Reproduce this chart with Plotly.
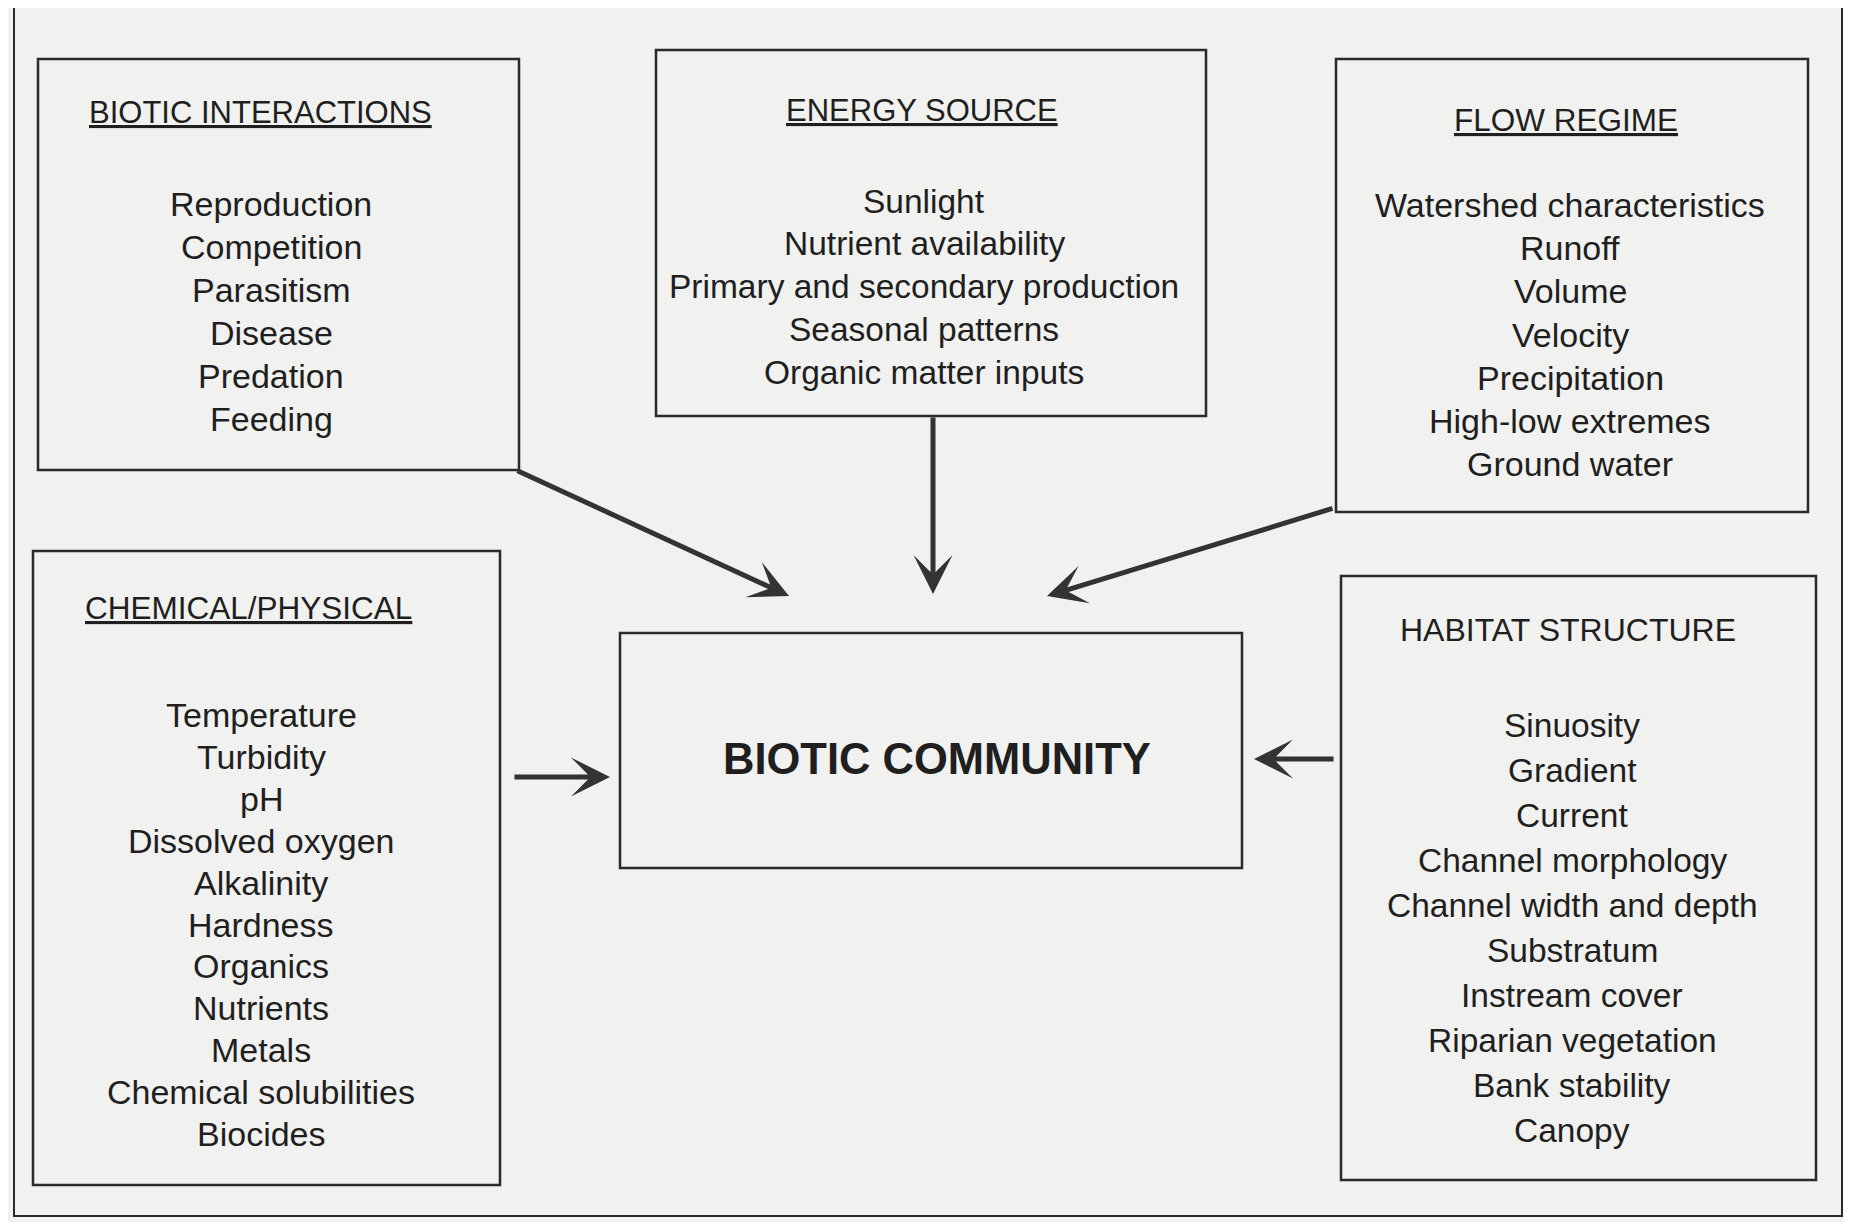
import plotly.graph_objects as go

W, H = 1851, 1222
OFF = 8  # page body margin; axis ranges are shifted so data coords = page pixels

# box contents
biotic_title = "BIOTIC INTERACTIONS"
biotic_items = ["Reproduction", "Competition", "Parasitism", "Disease", "Predation", "Feeding"]

energy_title = "ENERGY SOURCE"
energy_items = ["Sunlight", "Nutrient availability", "Primary and secondary production",
                "Seasonal patterns", "Organic matter inputs"]

flow_title = "FLOW REGIME"
flow_items = ["Watershed characteristics", "Runoff", "Volume", "Velocity", "Precipitation",
              "High-low extremes", "Ground water"]

chem_title = "CHEMICAL/PHYSICAL"
chem_items = ["Temperature", "Turbidity", "pH", "Dissolved oxygen", "Alkalinity", "Hardness",
              "Organics", "Nutrients", "Metals", "Chemical solubilities", "Biocides"]

habitat_title = "HABITAT STRUCTURE"
habitat_items = ["Sinuosity", "Gradient", "Current", "Channel morphology", "Channel width and depth",
                 "Substratum", "Instream cover", "Riparian vegetation", "Bank stability", "Canopy"]

center_title = "BIOTIC COMMUNITY"

FONT = "Liberation Sans, Arial, sans-serif"
INK = "#1f1f1f"
PAPER = "#f1f1ef"

# layout of each box: rect, title pos, first item y, line step
boxes = [
    dict(title=biotic_title, items=biotic_items, rect=(38, 59, 519, 470), tx=260, ty=112,
         ix=271, iy=204, step=43, tsize=31, isize=34, underline=True),
    dict(title=energy_title, items=energy_items, rect=(656, 50, 1206, 416), tx=922, ty=110,
         ix=924, iy=201, step=42.75, tsize=31, isize=33.5, underline=True),
    dict(title=flow_title, items=flow_items, rect=(1336, 59, 1808, 512), tx=1566, ty=120,
         ix=1570, iy=205, step=43.2, tsize=31.5, isize=34, underline=True),
    dict(title=chem_title, items=chem_items, rect=(33, 551, 500, 1185), tx=248, ty=608,
         ix=261, iy=715, step=41.9, tsize=31.5, isize=34, underline=True),
    dict(title=habitat_title, items=habitat_items, rect=(1341, 576, 1816, 1180), tx=1568, ty=630,
         ix=1572, iy=725, step=45.1, tsize=32, isize=33.5, underline=False),
]
center_rect = (620, 633, 1242, 868)

# arrows: (tail x, tail y, head x, head y)
arrows = [
    (516, 470, 789, 596),
    (933, 416, 933, 594),
    (1334, 508, 1047, 596),
    (513, 777, 610, 777),
    (1335, 759, 1254, 759),
]

fig = go.Figure()

shapes = [dict(type="rect", x0=14, y0=4, x1=1842, y1=1216, line=dict(color="#2a2a2a", width=2))]
annotations = []

for b in boxes:
    x0, y0, x1, y1 = b["rect"]
    shapes.append(dict(type="rect", x0=x0, y0=y0, x1=x1, y1=y1, line=dict(color="#2a2a2a", width=2.5)))
    t = f"<u>{b['title']}</u>" if b["underline"] else b["title"]
    annotations.append(dict(x=b["tx"], y=b["ty"], text=t, showarrow=False,
                            font=dict(family=FONT, size=b["tsize"], color=INK)))
    for i, item in enumerate(b["items"]):
        annotations.append(dict(x=b["ix"], y=b["iy"] + i * b["step"], text=item, showarrow=False,
                                font=dict(family=FONT, size=b["isize"], color=INK)))

x0, y0, x1, y1 = center_rect
shapes.append(dict(type="rect", x0=x0, y0=y0, x1=x1, y1=y1, line=dict(color="#2a2a2a", width=2.5)))
annotations.append(dict(x=937, y=759, text=f"<b>{center_title}</b>", showarrow=False,
                        font=dict(family=FONT, size=43.5, color=INK)))

for ax_, ay_, hx, hy in arrows:
    annotations.append(dict(x=hx, y=hy, ax=ax_, ay=ay_, xref="x", yref="y", axref="x", ayref="y",
                            text="", showarrow=True, arrowhead=3, arrowsize=1.3, arrowwidth=5,
                            arrowcolor="#333333", standoff=0, startstandoff=0))

fw, fh = W - OFF, H - OFF
fig.update_layout(
    width=fw, height=fh, autosize=False,
    margin=dict(l=0, r=0, t=0, b=0),
    paper_bgcolor=PAPER, plot_bgcolor=PAPER,
    xaxis=dict(range=[OFF, OFF + fw], visible=False, fixedrange=True),
    yaxis=dict(range=[OFF + fh, OFF], visible=False, fixedrange=True),
    shapes=shapes, annotations=annotations, showlegend=False,
)

fig.write_html("out.html")
